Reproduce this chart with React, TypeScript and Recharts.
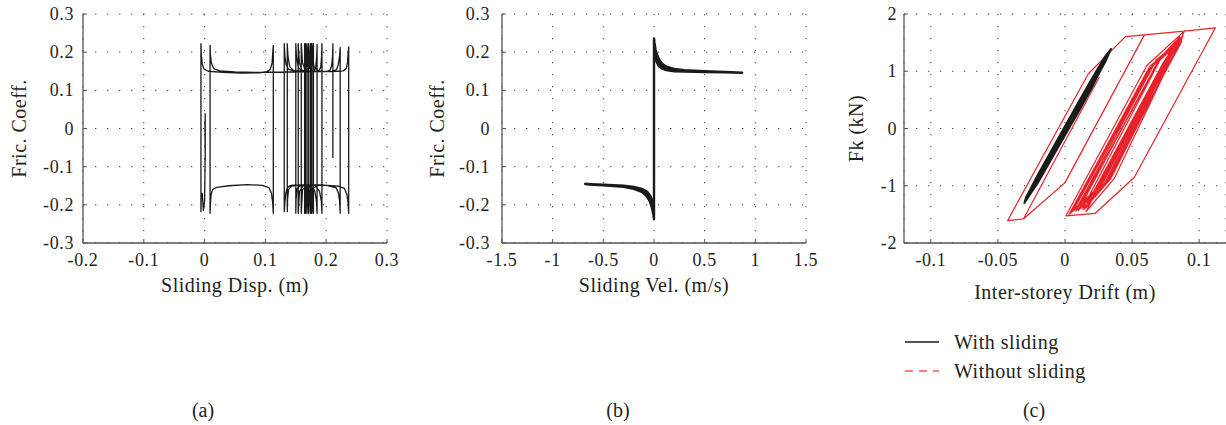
import React from "react";
import { LineChart, Line, XAxis, YAxis, CartesianGrid, Label, Legend } from "recharts";

const FONT = "'Liberation Serif', 'Times New Roman', serif";
const TEXT = "#231f20";
const BOX = "#555";
const INK = "#1a1a1a";
const RED = "#e8222a";

// tick values
const dispTicks = [-0.2, -0.1, 0, 0.1, 0.2, 0.3];
const fricTicks = [-0.3, -0.2, -0.1, 0, 0.1, 0.2, 0.3];
const velTicks = [-1.5, -1, -0.5, 0, 0.5, 1, 1.5];
const driftTicks = [-0.1, -0.05, 0, 0.05, 0.1];
const forceTicks = [-2, -1, 0, 1, 2];

// (a) friction coefficient vs sliding displacement [m, -]
const fricVsDisp: [number, number][] = [
  [0.001, 0.04], [0.001, -0.085], [0.0005, 0.02], [0.001, -0.06],
  [0.0, -0.19], [-0.002, -0.215], [-0.003, -0.19], [-0.004, -0.17], [-0.0055, -0.185], [-0.006, -0.218],
  [-0.006, 0.222], [-0.0055, 0.195], [-0.004, 0.17], [-0.001, 0.156], [0.006, 0.15], [0.03, 0.147], [0.06, 0.145],
  [0.09, 0.146], [0.103, 0.149], [0.108, 0.155], [0.111, 0.172], [0.112, 0.195], [0.113, 0.218],
  [0.113, -0.222], [0.112, -0.195], [0.11, -0.17], [0.106, -0.155], [0.095, -0.149], [0.07, -0.147], [0.04, -0.15],
  [0.02, -0.154], [0.013, -0.16], [0.0105, -0.175], [0.0095, -0.2], [0.009, -0.222],
  [0.009, 0.218], [0.0095, 0.195], [0.011, 0.172], [0.015, 0.157], [0.025, 0.151], [0.05, 0.148], [0.09, 0.147],
  [0.13, 0.148], [0.17, 0.149], [0.21, 0.149], [0.228, 0.151], [0.233, 0.157], [0.235, 0.172], [0.236, 0.195], [0.237, 0.214],
  [0.237, -0.222], [0.236, -0.195], [0.234, -0.172], [0.23, -0.157], [0.22, -0.151], [0.19, -0.148], [0.16, -0.147],
  [0.142, -0.149], [0.136, -0.155], [0.1335, -0.17], [0.132, -0.195], [0.131, -0.218],
  [0.131, 0.222], [0.132, 0.19], [0.134, 0.168], [0.138, 0.155], [0.15, 0.15], [0.18, 0.149], [0.21, 0.15],
  [0.217, 0.154], [0.22, 0.168], [0.222, 0.19], [0.223, 0.212],
  [0.223, -0.222], [0.222, -0.19], [0.22, -0.168], [0.216, -0.155], [0.2, -0.149], [0.16, -0.148], [0.143, -0.151],
  [0.138, -0.16], [0.1365, -0.185], [0.136, -0.218],
  [0.136, 0.222], [0.137, 0.19], [0.14, 0.162], [0.146, 0.152], [0.17, 0.149], [0.18, 0.151], [0.183, 0.162], [0.1845, 0.19], [0.185, 0.22],
  [0.185, -0.222], [0.184, -0.19], [0.181, -0.162], [0.175, -0.152], [0.158, -0.149], [0.152, -0.158], [0.1505, -0.185], [0.15, -0.222],
  [0.15, 0.222], [0.151, 0.19], [0.154, 0.16], [0.16, 0.151], [0.174, 0.15], [0.177, 0.165], [0.179, 0.222],
  [0.179, -0.222], [0.178, -0.18], [0.174, -0.156], [0.162, -0.15], [0.156, -0.165], [0.154, -0.222],
  [0.154, 0.222], [0.156, 0.172], [0.16, 0.153], [0.168, 0.15], [0.172, 0.168], [0.174, 0.222],
  [0.174, -0.222], [0.172, -0.17], [0.167, -0.153], [0.161, -0.16], [0.159, -0.222],
  [0.159, 0.222], [0.161, 0.172], [0.165, 0.155], [0.169, 0.165], [0.171, 0.222],
  [0.171, -0.222], [0.17, -0.175], [0.167, -0.16], [0.165, -0.19], [0.1645, -0.222],
  [0.1645, 0.222], [0.166, 0.18], [0.168, 0.17], [0.1695, 0.2], [0.17, 0.222],
  [0.17, -0.222], [0.169, -0.18], [0.167, -0.175], [0.166, -0.2], [0.166, -0.222],
  [0.166, 0.222], [0.167, 0.19], [0.171, 0.16], [0.175, 0.155], [0.176, 0.2], [0.1765, 0.222],
  [0.1765, -0.222], [0.1755, -0.18], [0.172, -0.16], [0.168, -0.17], [0.167, -0.222],
  [0.167, 0.222], [0.169, 0.18], [0.175, 0.153], [0.187, 0.149], [0.191, 0.16], [0.1925, 0.19], [0.193, 0.222],
  [0.193, -0.222], [0.192, -0.19], [0.189, -0.165], [0.183, -0.152], [0.178, -0.158], [0.1765, -0.19], [0.176, -0.222],
  [0.176, 0.222], [0.177, 0.19], [0.18, 0.162], [0.187, 0.151], [0.2, 0.149], [0.206, 0.152], [0.209, 0.165],
  [0.2105, 0.19], [0.211, 0.222], [0.211, -0.077],
];

// (b) friction coefficient vs sliding velocity [m/s, -]
const fricVsVel: [number, number][] = [
  [-0.68, -0.146], [-0.5, -0.149], [-0.3, -0.153], [-0.2, -0.158], [-0.12, -0.166], [-0.07, -0.178],
  [-0.04, -0.192], [-0.02, -0.208], [-0.006, -0.226], [0, -0.238],
  [0, 0.236], [0.005, 0.224], [0.015, 0.207], [0.03, 0.193], [0.05, 0.181], [0.08, 0.17], [0.12, 0.162],
  [0.2, 0.156], [0.3, 0.153], [0.5, 0.15], [0.7, 0.148], [0.87, 0.146],
  [0.7, 0.147], [0.5, 0.148], [0.3, 0.149], [0.2, 0.15], [0.12, 0.153], [0.08, 0.157], [0.05, 0.163],
  [0.03, 0.172], [0.015, 0.184], [0.005, 0.198], [0, 0.21],
  [0, -0.215], [-0.005, -0.205], [-0.02, -0.188], [-0.04, -0.175], [-0.07, -0.165], [-0.12, -0.158],
  [-0.2, -0.153], [-0.3, -0.15], [-0.5, -0.147], [-0.68, -0.145],
  [-0.5, -0.148], [-0.3, -0.151], [-0.2, -0.155], [-0.12, -0.162], [-0.07, -0.171], [-0.04, -0.183],
  [-0.02, -0.198], [-0.005, -0.215], [0, -0.226],
  [0, 0.224], [0.005, 0.211], [0.015, 0.195], [0.03, 0.182], [0.05, 0.172], [0.08, 0.163], [0.12, 0.157],
  [0.2, 0.153], [0.3, 0.151], [0.5, 0.149], [0.75, 0.147],
];

// (c) storey force vs inter-storey drift [m, kN]
const withSliding: [number, number][] = [
  [-0.0303, -1.3], [-0.02, -0.94], [-0.01, -0.53], [0.0, -0.12], [0.01, 0.29], [0.02, 0.71], [0.026, 1.0],
  [0.03, 1.16], [0.0343, 1.39],
  [0.03, 1.26], [0.02, 0.87], [0.01, 0.46], [0.0, 0.04], [-0.01, -0.38], [-0.02, -0.8], [-0.029, -1.2], [-0.0303, -1.3],
  [-0.027, -1.12], [-0.02, -0.9], [-0.01, -0.49], [0.0, -0.08], [0.01, 0.33], [0.02, 0.75], [0.03, 1.2], [0.033, 1.32],
  [0.03, 1.22], [0.02, 0.83], [0.01, 0.42], [0.0, 0.0], [-0.01, -0.42], [-0.02, -0.84], [-0.027, -1.12],
  [-0.028, -1.22], [-0.02, -0.92], [-0.01, -0.51], [0.0, -0.1], [0.01, 0.31], [0.02, 0.73], [0.029, 1.12],
  [0.025, 0.98], [0.015, 0.6], [0.005, 0.2], [-0.005, -0.22], [-0.015, -0.64], [-0.025, -1.06],
];

const withoutSliding: [number, number][] = [
  [0.0256, 0.9], [-0.031, -1.58], [-0.0428, -1.61], [0.0174, 0.957], [0.045, 1.606], [0.0592, 1.635],
  [0.0, -0.945], [-0.031, -1.58], [-0.0428, -1.61], [0.0174, 0.957], [0.045, 1.606], [0.0592, 1.635],
  [0.0928, 1.71], [0.112, 1.757], [0.0517, -0.852], [0.0224, -1.484], [0.0007, -1.525],
  [0.061, 1.1], [0.0893, 1.71], [0.0368, -0.87], [0.0157, -1.45], [0.075, 1.22], [0.087, 1.55],
  [0.031, -0.95], [0.006, -1.42], [0.066, 1.12], [0.0855, 1.6], [0.029, -0.98], [0.004, -1.47],
  [0.063, 1.08], [0.083, 1.5], [0.026, -1.05], [0.011, -1.35], [0.071, 1.22], [0.085, 1.55],
  [0.028, -1.02], [0.008, -1.44], [0.067, 1.15], [0.084, 1.52], [0.033, -0.9], [0.013, -1.4],
  [0.072, 1.25], [0.086, 1.58], [0.03, -0.97], [0.009, -1.38], [0.068, 1.2], [0.08, 1.42],
  [0.027, -0.98], [0.005, -1.45], [0.064, 1.06], [0.082, 1.48], [0.025, -1.02], [0.012, -1.3],
  [0.07, 1.2], [0.088, 1.62], [0.034, -0.88], [0.014, -1.42], [0.073, 1.14], [0.087, 1.52],
  [0.029, -1.0], [0.007, -1.4], [0.065, 1.1], [0.085, 1.56], [0.031, -0.92], [0.01, -1.43],
  [0.069, 1.16], [0.083, 1.45], [0.024, -1.1], [0.003, -1.5], [0.062, 1.02], [0.081, 1.44],
  [0.026, -1.04], [0.016, -1.38], [0.074, 1.18], [0.086, 1.5], [0.045, -0.2],
];

const legendNames = ["With sliding", "Without sliding"];

const toXY = (pts: [number, number][]) => pts.map(([x, y]) => ({ x, y }));

const PLOT_TOP = 14;
const PLOT_BOTTOM = 243;
const CHART_H = 425;

const txt = { fontFamily: FONT, fill: TEXT };

const bottomTick = ({ x, y, payload }: any) => (
  <g>
    <line x1={x} x2={x} y1={y} y2={y - 4} stroke={BOX} />
    <text x={x} y={y + 23} textAnchor="middle" fontSize={18} letterSpacing={0.6} {...txt}>
      {String(payload.value)}
    </text>
  </g>
);
const topTick = ({ x, y }: any) => <line x1={x} x2={x} y1={y} y2={y + 4} stroke={BOX} />;
const rightTick = ({ x, y }: any) => <line x1={x} x2={x - 4} y1={y} y2={y} stroke={BOX} />;
const leftTick = (gap: number) => ({ x, y, payload }: any) => (
  <g>
    <line x1={x + gap} x2={x + gap + 4} y1={y} y2={y} stroke={BOX} />
    <text x={x} y={y} dy="0.34em" textAnchor="end" fontSize={18} letterSpacing={0.6} {...txt}>
      {String(payload.value)}
    </text>
  </g>
);

type Series = { name: string; pts: [number, number][]; color: string; width: number };

type PanelProps = {
  left: number;
  width: number;
  plotLeft: number;
  plotRight: number;
  yGap: number;
  xDomain: [number, number];
  xTicks: number[];
  yDomain: [number, number];
  yTicks: number[];
  series: Series[];
  yLabel: string;
  yLabelX: number;
  xLabel: string;
  xLabelY: number;
  tag: string;
  tagX: number;
  legend?: boolean;
};

function LegendBox({ payload }: any) {
  const items = legendNames.map((n) => (payload || []).find((p: any) => p.value === n)).filter(Boolean);
  return (
    <svg width={240} height={66} style={{ display: "block", overflow: "visible" }}>
      {items.map((p: any, i: number) => (
        <g key={p.value} transform={`translate(0, ${12 + i * 29})`}>
          <line
            x1={0}
            x2={34}
            y1={0}
            y2={0}
            stroke={p.value === "Without sliding" ? "#ef5a5a" : INK}
            strokeWidth={1.4}
            strokeDasharray={p.value === "Without sliding" ? "8 6" : undefined}
          />
          <text x={49} y={0} dy="0.34em" fontSize={20} letterSpacing={0.5} {...txt}>
            {p.value}
          </text>
        </g>
      ))}
    </svg>
  );
}

function Panel(p: PanelProps) {
  const cy = (PLOT_TOP + PLOT_BOTTOM) / 2;
  return (
    <div style={{ position: "absolute", left: p.left, top: 0 }}>
      <LineChart
        width={p.width}
        height={CHART_H}
        margin={{ top: PLOT_TOP, right: p.width - p.plotRight, bottom: 0, left: 0 }}
      >
        <CartesianGrid stroke="#444" strokeDasharray="1.3 10.7" strokeWidth={1} />
        <XAxis
          type="number"
          dataKey="x"
          domain={p.xDomain}
          ticks={p.xTicks}
          interval={0}
          allowDataOverflow
          height={CHART_H - PLOT_BOTTOM}
          tickSize={0}
          tickMargin={0}
          tickLine={false}
          axisLine={{ stroke: BOX, strokeWidth: 1.3 }}
          tick={bottomTick}
        >
          <Label
            content={() => (
              <g>
                <text x={(p.plotLeft + p.plotRight) / 2} y={p.xLabelY} textAnchor="middle" fontSize={20} letterSpacing={0.5} {...txt}>
                  {p.xLabel}
                </text>
                <text x={p.tagX} y={417} textAnchor="middle" fontSize={20} {...txt}>
                  {p.tag}
                </text>
              </g>
            )}
          />
        </XAxis>
        <XAxis
          xAxisId="top"
          orientation="top"
          type="number"
          dataKey="x"
          domain={p.xDomain}
          ticks={p.xTicks}
          interval={0}
          allowDataOverflow
          height={0}
          tickSize={0}
          tickMargin={0}
          tickLine={false}
          axisLine={{ stroke: BOX, strokeWidth: 1.3 }}
          tick={topTick}
        />
        <YAxis
          type="number"
          domain={p.yDomain}
          ticks={p.yTicks}
          interval={0}
          allowDataOverflow
          width={p.plotLeft}
          tickSize={0}
          tickMargin={p.yGap}
          tickLine={false}
          axisLine={{ stroke: BOX, strokeWidth: 1.3 }}
          tick={leftTick(p.yGap)}
        >
          <Label
            content={() => (
              <text
                x={p.yLabelX}
                y={cy}
                transform={`rotate(-90 ${p.yLabelX} ${cy})`}
                dy="0.34em"
                textAnchor="middle"
                fontSize={20}
                letterSpacing={0.5}
                {...txt}
              >
                {p.yLabel}
              </text>
            )}
          />
        </YAxis>
        <YAxis
          yAxisId="right"
          orientation="right"
          type="number"
          domain={p.yDomain}
          ticks={p.yTicks}
          interval={0}
          allowDataOverflow
          width={0}
          tickSize={0}
          tickMargin={0}
          tickLine={false}
          axisLine={{ stroke: BOX, strokeWidth: 1.3 }}
          tick={rightTick}
        />
        {p.series.map((s) => (
          <Line
            key={s.name}
            name={s.name}
            data={toXY(s.pts)}
            dataKey="y"
            type="linear"
            stroke={s.color}
            strokeWidth={s.width}
            strokeLinejoin="round"
            dot={false}
            activeDot={false}
            isAnimationActive={false}
          />
        ))}
        {p.legend && (
          <Legend
            layout="horizontal"
            verticalAlign="middle"
            align="center"
            width={240}
            wrapperStyle={{ left: 85, top: 330, width: 240, height: 66 }}
            content={LegendBox}
          />
        )}
      </LineChart>
    </div>
  );
}

export default function App() {
  return (
    <div style={{ position: "absolute", left: 0, top: 0, width: 1226, height: 425, background: "#fff", overflow: "hidden" }}>
      <Panel
        left={0}
        width={410}
        plotLeft={83}
        plotRight={387}
        yGap={9}
        xDomain={[-0.2, 0.3]}
        xTicks={dispTicks}
        yDomain={[-0.3, 0.3]}
        yTicks={fricTicks}
        series={[{ name: "Friction", pts: fricVsDisp, color: INK, width: 1.3 }]}
        yLabel="Fric. Coeff."
        yLabelX={19}
        xLabel="Sliding Disp. (m)"
        xLabelY={292}
        tag="(a)"
        tagX={203}
      />
      <Panel
        left={410}
        width={410}
        plotLeft={92}
        plotRight={396}
        yGap={12}
        xDomain={[-1.5, 1.5]}
        xTicks={velTicks}
        yDomain={[-0.3, 0.3]}
        yTicks={fricTicks}
        series={[{ name: "Friction", pts: fricVsVel, color: INK, width: 2.4 }]}
        yLabel="Fric. Coeff."
        yLabelX={27}
        xLabel="Sliding Vel. (m/s)"
        xLabelY={292}
        tag="(b)"
        tagX={208}
      />
      <Panel
        left={820}
        width={406}
        plotLeft={84}
        plotRight={406}
        yGap={7}
        xDomain={[-0.12, 0.12]}
        xTicks={driftTicks}
        yDomain={[-2, 2]}
        yTicks={forceTicks}
        series={[
          { name: "Without sliding", pts: withoutSliding, color: RED, width: 1.2 },
          { name: "With sliding", pts: withSliding, color: INK, width: 2 },
        ]}
        yLabel="Fk (kN)"
        yLabelX={36}
        xLabel="Inter-storey Drift (m)"
        xLabelY={299}
        tag="(c)"
        tagX={214}
        legend
      />
    </div>
  );
}
